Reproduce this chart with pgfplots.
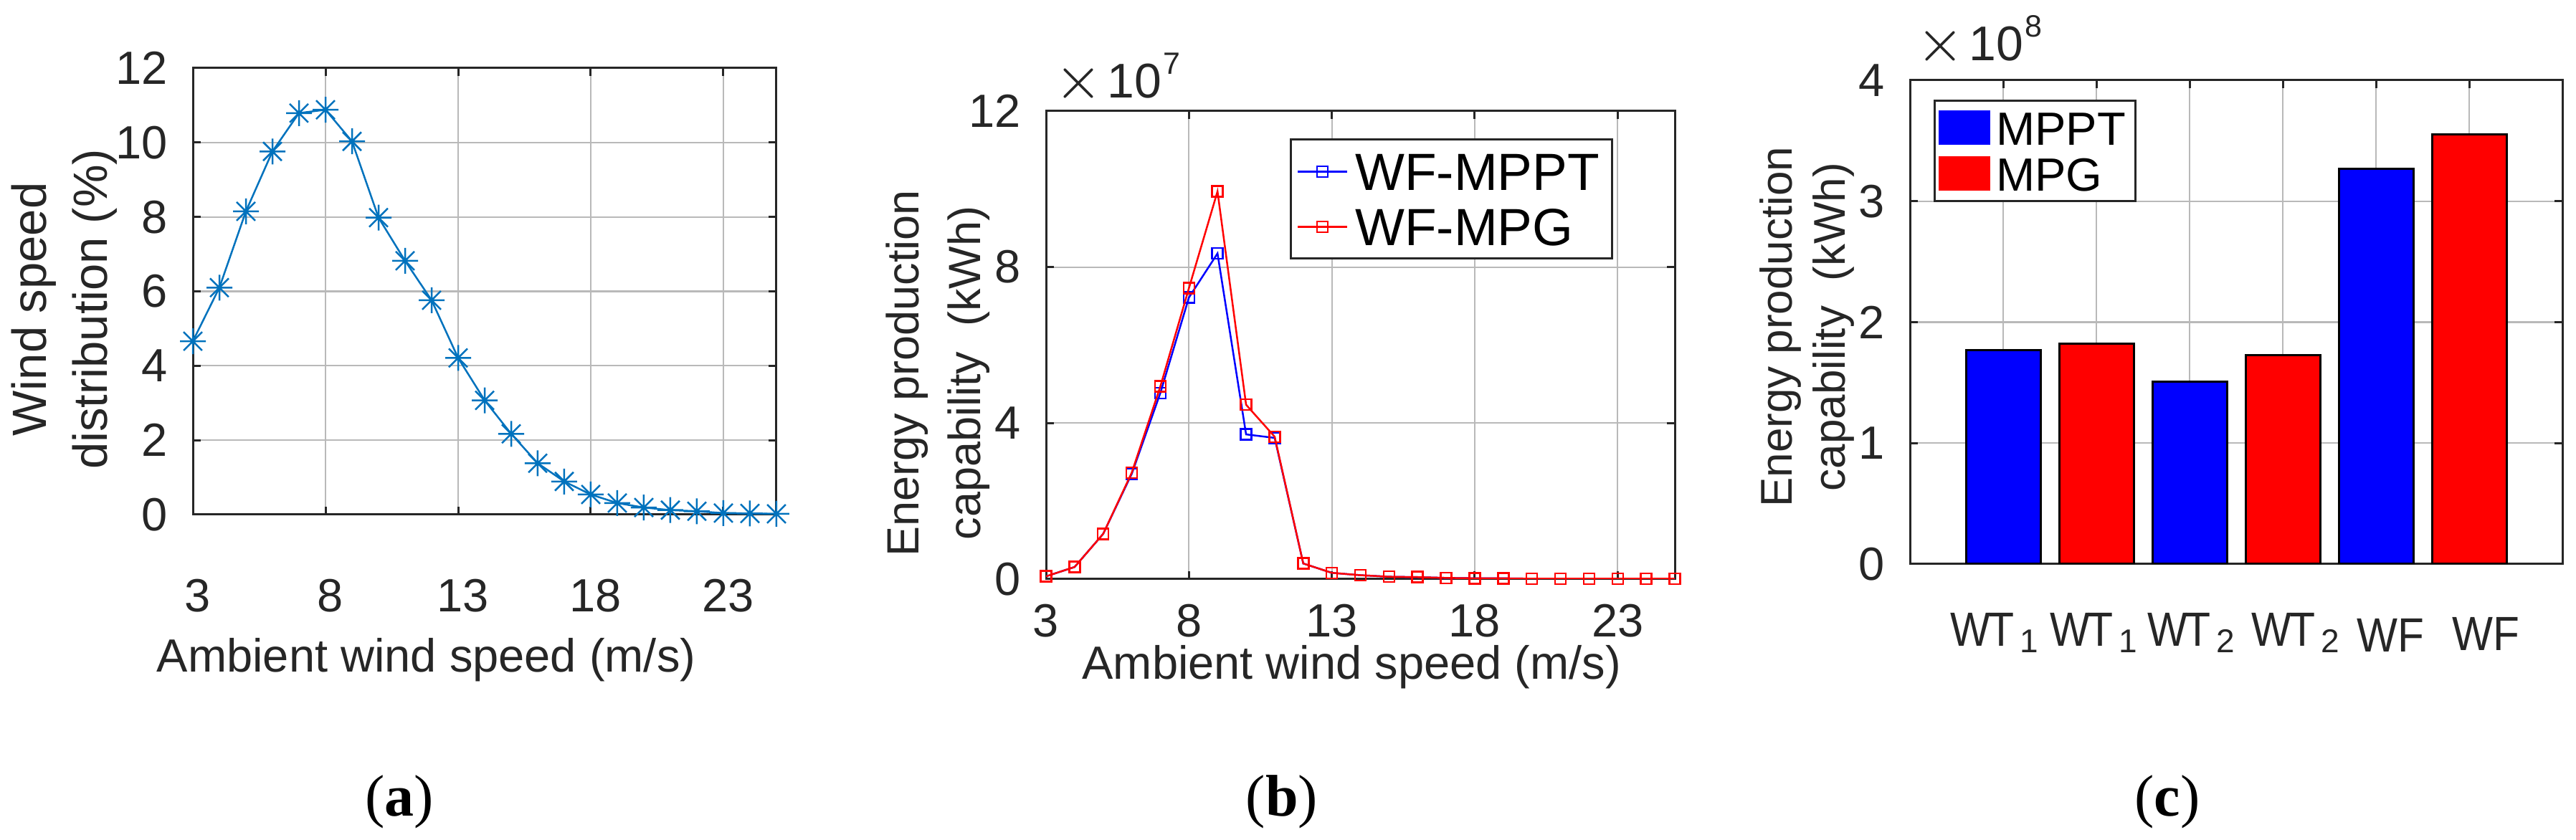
\documentclass[border=0pt]{standalone}
\usepackage{fontspec}
\setmainfont{Liberation Sans}
\newfontfamily\capfont{Liberation Serif}
\usepackage{graphicx}
\usepackage{pgfplots}
\pgfplotsset{compat=1.18}
\definecolor{mlblue}{RGB}{0,114,189}
\definecolor{axgray}{RGB}{38,38,38}
\pgfdeclareplotmark{mstar}{%
  \pgfpathmoveto{\pgfqpoint{-\pgfplotmarksize}{0pt}}\pgfpathlineto{\pgfqpoint{\pgfplotmarksize}{0pt}}%
  \pgfpathmoveto{\pgfqpoint{0pt}{-\pgfplotmarksize}}\pgfpathlineto{\pgfqpoint{0pt}{\pgfplotmarksize}}%
  \pgfpathmoveto{\pgfqpoint{-0.72\pgfplotmarksize}{-0.72\pgfplotmarksize}}\pgfpathlineto{\pgfqpoint{0.72\pgfplotmarksize}{0.72\pgfplotmarksize}}%
  \pgfpathmoveto{\pgfqpoint{-0.72\pgfplotmarksize}{0.72\pgfplotmarksize}}\pgfpathlineto{\pgfqpoint{0.72\pgfplotmarksize}{-0.72\pgfplotmarksize}}%
  \pgfusepathqstroke}
\newcommand{\expo}[1]{{\fontsize{8}{8}\selectfont$\times$}\kern0.7pt{\fontsize{6.8}{7}\selectfont 10}\kern0.2pt\raisebox{3.3pt}{\fontsize{4.3}{5}\selectfont #1}}
\newcommand{\WT}[1]{\scalebox{0.88}[1]{W\kern-0.4pt T}\kern0.8pt\raisebox{-0.9pt}{\fontsize{4.6}{5}\selectfont #1}}
\newcommand{\WF}{\scalebox{0.9}[1]{WF}}
\pgfplotsset{
  mystyle/.style={
    scale only axis, anchor=south west,
    axis line style={axgray, line width=0.3pt},
    every tick/.style={axgray, line width=0.3pt},
    tick align=inside, major tick length=1.1pt,
    grid=major, grid style={gray!55, line width=0.22pt},
    tick label style={font=\fontsize{6.5}{7}\selectfont, text=axgray},
    label style={font=\fontsize{6.5}{7}\selectfont, text=axgray},
    /pgf/number format/assume math mode=true,
    clip mode=individual,
  }
}
\begin{document}
\begin{tikzpicture}
\useasboundingbox (0,0) rectangle (359.3pt,117.2pt);
% ---------------- (a)
\begin{axis}[mystyle, at={(26.9pt,45.4pt)}, width=81.4pt, height=62.3pt,
  xmin=3, xmax=25, ymin=0, ymax=12,
  xtick={3,8,13,18,23}, ytick={0,2,4,6,8,10,12},
  xticklabel style={yshift=-5.5pt, xshift=0.7pt},
  xlabel={Ambient wind speed (m/s)},
  xlabel style={at={(axis description cs:0.40,0)}, anchor=center, yshift=-20.3pt},
  ylabel={Wind speed\\distribution (\%)},
  ylabel style={at={(axis description cs:-0.22,0.46)}, anchor=center, align=center, font=\fontsize{6.7}{8.5}\selectfont},
]
\addplot[color=mlblue, line width=0.25pt, mark=mstar, mark size=1.8pt] coordinates {
(3,4.66) (4,6.10) (5,8.15) (6,9.76) (7,10.79) (8,10.88) (9,10.03) (10,7.98)
(11,6.82) (12,5.76) (13,4.21) (14,3.07) (15,2.17) (16,1.38) (17,0.89) (18,0.54)
(19,0.31) (20,0.19) (21,0.12) (22,0.09) (23,0.04) (24,0.03) (25,0.02)};
\end{axis}
% ---------------- (b)
\begin{axis}[mystyle, at={(145.9pt,36.4pt)}, width=87.7pt, height=65.3pt,
  xmin=3, xmax=25, ymin=0, ymax=12,
  xtick={3,8,13,18,23}, ytick={0,4,8,12},
  xlabel={Ambient wind speed (m/s)},
  xlabel style={at={(axis description cs:0.486,0)}, anchor=center, yshift=-12.3pt},
  ylabel={Energy production\\capability\ \ (kWh)},
  ylabel style={at={(axis description cs:-0.172,0.44)}, anchor=center, align=center, font=\fontsize{6.3}{8.6}\selectfont},
  legend style={at={(axis description cs:0.388,0.941)}, anchor=north west, draw=axgray, line width=0.3pt,
    font=\fontsize{7.3}{7.3}\selectfont, inner sep=0.8pt, row sep=0.4pt,
    nodes={inner sep=1pt, text height=5.3pt, text depth=0pt}},
  legend cell align=left,
  legend image code/.code={\draw[#1] (0pt,0pt) -- (6.9pt,0pt); \draw[#1, only marks] plot coordinates {(3.45pt,0pt)};},
]
\addplot[color=blue, line width=0.25pt, mark=square, mark size=0.75pt] coordinates {
(3,0.07) (4,0.31) (5,1.16) (6,2.70) (7,4.77) (8,7.22) (9,8.35) (10,3.71)
(11,3.62) (12,0.40) (13,0.16) (14,0.10) (15,0.06) (16,0.05) (17,0.03) (18,0.02)
(19,0.02) (20,0.01) (21,0.01) (22,0.01) (23,0.01) (24,0.01) (25,0.01)};
\addlegendentry{WF-MPPT}
\addplot[color=red, line width=0.25pt, mark=square, mark size=0.75pt] coordinates {
(3,0.07) (4,0.31) (5,1.16) (6,2.73) (7,4.94) (8,7.46) (9,9.94) (10,4.47)
(11,3.65) (12,0.40) (13,0.16) (14,0.10) (15,0.06) (16,0.05) (17,0.03) (18,0.02)
(19,0.02) (20,0.01) (21,0.01) (22,0.01) (23,0.01) (24,0.01) (25,0.01)};
\addlegendentry{WF-MPG}
\node[anchor=base west, inner sep=0pt, text=axgray] at (axis description cs:0.012,1) [yshift=1.8pt] {\expo{7}};
\end{axis}
% ---------------- (c)
\begin{axis}[mystyle, at={(266.4pt,38.5pt)}, width=91.0pt, height=67.5pt,
  xmin=0, xmax=7, ymin=0, ymax=4,
  xtick={1,2,3,4,5,6}, ytick={0,1,2,3,4},
  xticklabels={},
  ylabel={Energy production\\capability\ \ (kWh)},
  ylabel style={at={(axis description cs:-0.158,0.49)}, anchor=center, align=center, font=\fontsize{6.2}{7.4}\selectfont},
  legend style={at={(axis description cs:0.036,0.96)}, anchor=north west, draw=axgray, line width=0.3pt,
    font=\fontsize{6.5}{6.5}\selectfont, inner sep=0.6pt, row sep=0pt,
    nodes={inner sep=0.8pt, text height=4.8pt, text depth=0pt}},
  legend cell align=left,
  legend image code/.code={\fill[#1, draw=none] (0pt,-2.4pt) rectangle (7.2pt,2.4pt);},
]
\addplot[ybar, bar width=0.8, bar shift=0pt, fill=blue, draw=black, line width=0.3pt] coordinates {(1,1.77) (3,1.51) (5,3.27)};
\addlegendentry{MPPT}
\addplot[ybar, bar width=0.8, bar shift=0pt, fill=red, draw=black, line width=0.3pt] coordinates {(2,1.82) (4,1.73) (6,3.55)};
\addlegendentry{MPG}
\node[anchor=base west, inner sep=0pt, text=axgray] at (axis description cs:0.008,1) [yshift=2.7pt] {\expo{8}};
\begin{scope}[every node/.style={anchor=base, inner sep=0pt, text=axgray, font=\fontsize{6.7}{7}\selectfont}]
\node at (axis cs:0.906,0) [yshift=-11.5pt] {\WT{1}};
\node at (axis cs:1.973,0) [yshift=-11.5pt] {\WT{1}};
\node at (axis cs:3.016,0) [yshift=-11.5pt] {\WT{2}};
\node at (axis cs:4.137,0) [yshift=-11.5pt] {\WT{2}};
\node at (axis cs:5.157,0) [yshift=-12.3pt] {\WF};
\node at (axis cs:6.178,0) [yshift=-12.1pt] {\WF};
\end{scope}
\end{axis}
% captions
\node[font=\fontsize{8.2}{9}\capfont] at (55.7pt,5.3pt) {(\textbf{a})};
\node[font=\fontsize{8.2}{9}\capfont] at (178.8pt,5.3pt) {(\textbf{b})};
\node[font=\fontsize{8.2}{9}\capfont] at (302.3pt,5.3pt) {(\textbf{c})};
\end{tikzpicture}
\end{document}
